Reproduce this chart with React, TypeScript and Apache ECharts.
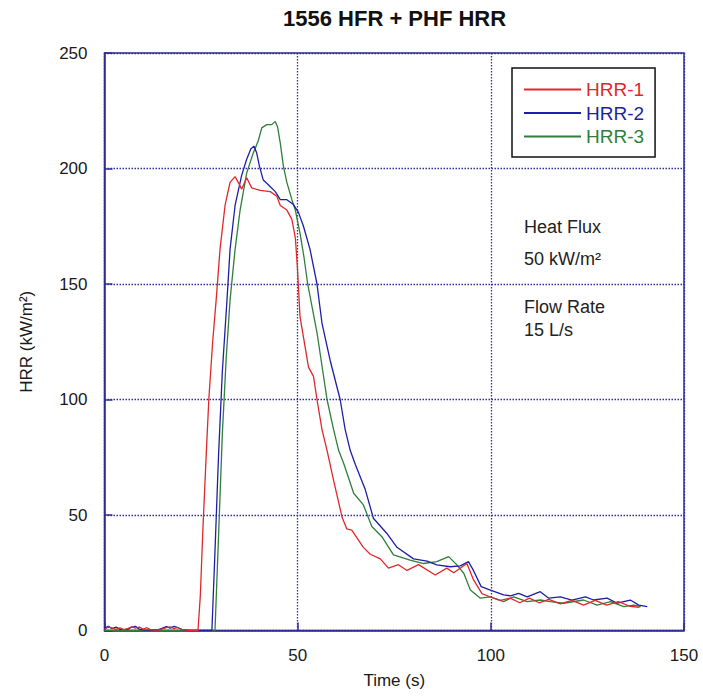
import React, { useEffect, useRef } from "react";
import * as echarts from "echarts";

const titleText = "1556 HFR + PHF HRR";
const seriesNames = ["HRR-1", "HRR-2", "HRR-3"];
const seriesColors = ["#e0282c", "#1e1eaa", "#2f7f3a"];

const xTicks = { min: 0, max: 150, interval: 50 };
const yTicks = { min: 0, max: 250, interval: 50 };

const hrr1Time = [0, 1, 2, 3, 4, 5, 6, 7, 8, 9, 10, 11, 12, 14, 16, 17, 18, 19, 20, 22, 24.2, 24.8, 25.5, 26.3, 27, 28, 28.9, 29.9, 31.2, 32.5, 33.8, 35, 35.5, 36.8, 38.1, 40.3, 42.9, 44.6, 45.5, 47.2, 48.5, 49.4, 49.9, 50.6, 52.8, 54.1, 55, 56.3, 57.6, 59.3, 61.5, 62.7, 64, 67, 68.8, 71.4, 73.5, 76.1, 78.3, 81.3, 85.6, 88.6, 90.4, 93.8, 95.5, 97.7, 99.9, 102.5, 105, 107.5, 110, 112.5, 115, 118, 121, 124, 127, 130, 133, 136, 138.5];
const hrr1Values = [0.5, 1.5, 1, 0.5, 1.2, 0.3, 0.8, 1.6, 1, 1.5, 0.6, 1.2, 0.3, 0.2, 1.2, 1.6, 0.8, 1.3, 0.5, 0, 0, 15, 45, 75, 100, 125, 143, 165, 184, 194, 196.5, 192.8, 191, 196, 191.6, 190.5, 190, 188, 184, 182, 178, 170, 158, 136, 114, 110, 100, 87, 78, 65, 49, 44, 43.5, 36, 33, 31, 27, 28.5, 26, 28.5, 24, 27, 25, 29, 22, 16, 14.5, 13, 14, 12, 14, 12, 13.5, 11.5, 13, 11, 13, 11, 12.5, 10.5, 10];

const hrr2Time = [0, 1, 2, 3, 4, 6, 7, 8, 9, 10, 12, 14, 15, 16, 17, 18, 19, 20, 22, 27.8, 28.5, 29.5, 30.5, 31.7, 32.5, 33.8, 35.5, 36.8, 37.9, 38.7, 39.4, 40.1, 41.1, 42.4, 44.2, 45.5, 47.2, 48.9, 50.2, 51.5, 53.2, 55, 56.3, 58.4, 61, 62.3, 63.6, 64.9, 67.5, 69.6, 73.1, 75.7, 80, 83.5, 86, 89.5, 92.1, 94.2, 95.5, 97.5, 99.9, 103.3, 105.1, 107.2, 109.4, 112.8, 115, 118, 121, 124.5, 126.6, 130.1, 132.7, 136.1, 138.3, 140.5];
const hrr2Values = [1, 1.8, 0.8, 1.5, 0.5, 0.5, 1.4, 1.8, 0.6, 0.3, 0.2, 0.4, 1, 1.7, 1, 1.8, 1.2, 0.5, 0, 0, 30, 75, 112, 143, 165, 184, 197, 204, 208.5, 209.6, 206.7, 201, 195, 193, 190, 186.5, 186.5, 184.4, 181, 175, 165, 150, 133, 117, 100, 87, 78, 72, 61, 48.6, 42, 36, 31, 30, 28.4, 27.6, 28, 29.8, 26, 19, 17.5, 15.4, 15, 16.1, 14.6, 16.8, 14, 14.6, 13.2, 14.6, 13.2, 14, 11.8, 13.2, 11, 10.3];

const hrr3Time = [0, 28.6, 29.5, 30.5, 31.5, 32.5, 33.8, 35.1, 36.8, 38.5, 39.8, 40.7, 42, 43.3, 44.2, 44.8, 45.5, 46.3, 47.2, 48.5, 49.4, 50.6, 51.6, 52.6, 55, 57.6, 59.3, 60.6, 61.9, 64.5, 67, 69.2, 71.8, 74.8, 79.1, 82.6, 86, 89.1, 91.2, 93, 94.7, 97.3, 99.8, 103.3, 105.9, 109.4, 112.8, 115.4, 118.8, 124, 127.5, 131, 134.4, 137, 138.8];
const hrr3Values = [0, 0, 40, 85, 118, 143, 165, 182, 198, 206.7, 212, 217.6, 219, 219, 220.4, 218, 211, 201, 194, 186.5, 182, 172, 162, 150, 129, 100, 87, 78, 72.4, 59.4, 54.4, 45, 40.6, 32.7, 30.5, 29, 29.8, 32, 28.4, 24.8, 17.5, 14, 14.6, 12.5, 14.6, 12.5, 13.2, 12.5, 11.8, 13.2, 11, 12.5, 10.3, 11, 10.3];

const annotations = [
  { text: "Heat Flux", y: 227 },
  { text: "50 kW/m²", y: 259 },
  { text: "Flow Rate", y: 307 },
  { text: "15 L/s", y: 330 },
];

const FONT = "'Liberation Sans', Arial, sans-serif";
const FRAME = "#2e2e96";

function pairs(t: number[], v: number[]) {
  return t.map((x, i) => [x, v[i]]);
}

export default function App() {
  const ref = useRef<HTMLDivElement>(null);
  useEffect(() => {
    document.body.style.margin = "0";
    const chart = echarts.init(ref.current!, undefined, { renderer: "svg" });
    const datasets = [pairs(hrr1Time, hrr1Values), pairs(hrr2Time, hrr2Values), pairs(hrr3Time, hrr3Values)];
    chart.setOption({
      animation: false,
      backgroundColor: "#ffffff",
      textStyle: { fontFamily: FONT },
      title: {
        text: titleText,
        left: 283,
        top: 7,
        padding: 0,
        textStyle: { fontFamily: FONT, fontSize: 22, fontWeight: "bold", color: "#111" },
      },
      grid: {
        left: 104.5,
        right: 19,
        top: 53,
        bottom: 67.5,
        show: true,
        borderColor: FRAME,
        borderWidth: 1.5,
        outerBoundsMode: "none",
      },
      legend: {
        orient: "vertical",
        left: 512,
        top: 68,
        padding: [12, 11, 11, 11],
        itemGap: 4.5,
        itemWidth: 57,
        itemHeight: 14,
        borderColor: "#111",
        borderWidth: 1.5,
        itemStyle: { opacity: 0 },
        data: seriesNames.map((n, i) => ({ name: n, textStyle: { color: seriesColors[i] } })),
        textStyle: { fontFamily: FONT, fontSize: 19 },
      },
      xAxis: {
        type: "value",
        min: xTicks.min,
        max: xTicks.max,
        interval: xTicks.interval,
        name: "Time (s)",
        nameLocation: "middle",
        nameGap: 41,
        nameTextStyle: { fontFamily: FONT, fontSize: 17, color: "#1a1a1a" },
        axisLine: { show: true, lineStyle: { color: FRAME, width: 1.5 } },
        axisTick: { show: true, inside: true, length: 8, lineStyle: { color: FRAME, width: 1.5 } },
        axisLabel: { margin: 16, fontFamily: FONT, fontSize: 17, color: "#1a1a1a" },
        splitLine: { show: true, lineStyle: { color: FRAME, width: 1.3, type: [1.5, 1.5] } },
      },
      yAxis: {
        type: "value",
        min: yTicks.min,
        max: yTicks.max,
        interval: yTicks.interval,
        name: "HRR (kW/m²)",
        nameLocation: "middle",
        nameRotate: 90,
        nameGap: 70,
        nameTextStyle: { fontFamily: FONT, fontSize: 17, color: "#1a1a1a" },
        axisLine: { show: true, lineStyle: { color: FRAME, width: 1.5 } },
        axisTick: { show: true, inside: true, length: 8, lineStyle: { color: FRAME, width: 1.5 } },
        axisLabel: { margin: 17, fontFamily: FONT, fontSize: 17, color: "#1a1a1a" },
        splitLine: { show: true, lineStyle: { color: FRAME, width: 1.3, type: [1.5, 1.5] } },
      },
      series: seriesNames.map((n, i) => ({
        name: n,
        type: "line",
        data: datasets[i],
        symbol: "none",
        showSymbol: false,
        lineStyle: { color: seriesColors[i], width: 1.3 },
        itemStyle: { color: seriesColors[i] },
        z: 3 - i,
      })),
      graphic: annotations.map((a) => ({
        type: "text",
        left: 524,
        top: a.y - 9,
        style: { text: a.text, fontFamily: FONT, fontSize: 18, fill: "#222" },
      })),
    });
    return () => chart.dispose();
  }, []);
  return <div ref={ref} style={{ width: 703, height: 698 }} />;
}
